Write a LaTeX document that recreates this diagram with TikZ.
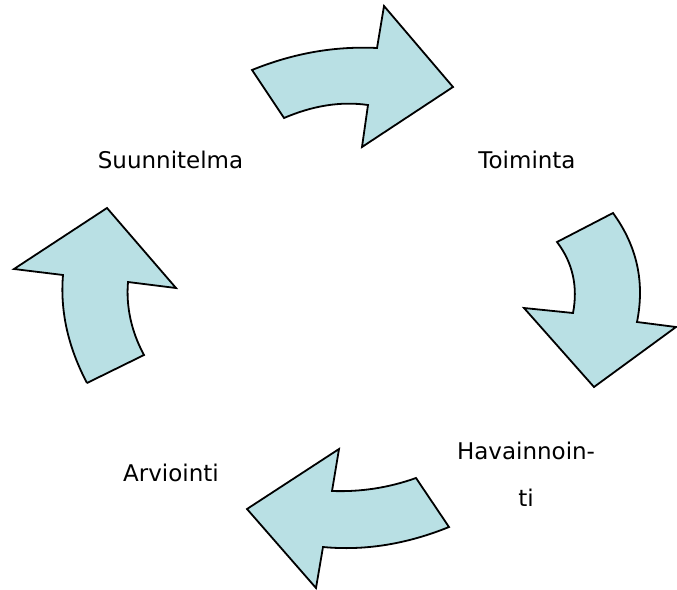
\documentclass[tikz,border=0pt]{standalone}
\usepackage{fontspec}
\setmainfont{DejaVu Sans}
\definecolor{nuolivari}{RGB}{185,224,228}

\begin{document}
\begin{tikzpicture}[x=1pt, y=-1pt,
  nuoli/.style={draw=black, line width=1.8pt, fill=nuolivari, line join=miter},
  vaihe/.style={anchor=base, align=center, font=\fontsize{23}{47}\selectfont}]
\useasboundingbox (0,0) rectangle (677,589);
% nuolet
\draw[nuoli] (252,70) .. controls (294,53) and (335,46) .. (377,48) -- (384,6) -- (453,87)
  -- (362,147) -- (368,105) .. controls (340,101) and (312,106) .. (284,118) -- cycle;
\draw[nuoli] (613,213) .. controls (637,246) and (645,282) .. (637,322) -- (676,327) -- (594,387)
  -- (524,308) -- (573,313) .. controls (578,287) and (573,263) .. (557,242) -- cycle;
\draw[nuoli] (416,478) .. controls (388,488) and (360,492) .. (332,491) -- (339,449) -- (247,509)
  -- (316,588) -- (323,547) .. controls (365,551) and (407,544) .. (449,527) -- cycle;
\draw[nuoli] (87,383) -- (144,355) .. controls (131,331) and (126,306) .. (128,282) -- (176,288)
  -- (107,208) -- (14,269) -- (63,275) .. controls (60,311) and (68,347) .. (87,383);
% tekstit
\node[vaihe] (suun) at (170.5,168) {Suunnitelma};
\node[vaihe] (toim) at (527,168) {Toiminta};
\node[vaihe] (hava) at (526,506) {Havainnoin-\\ti};
\node[vaihe] (arvi) at (171,481) {Arviointi};
\end{tikzpicture}
\end{document}
